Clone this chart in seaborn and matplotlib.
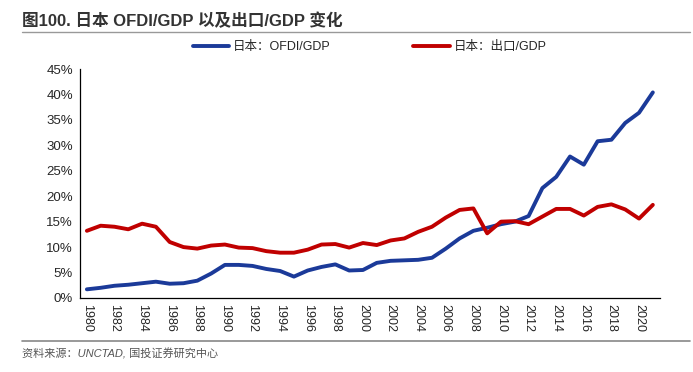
import numpy as np
import pandas as pd
import matplotlib
matplotlib.use("Agg")
import matplotlib.pyplot as plt
import seaborn as sns
from matplotlib.ticker import PercentFormatter

# dados (% do PIB)
anos = list(range(1980, 2022))
ofdi_gdp = [1.7, 2.0, 2.4, 2.6, 2.9, 3.2, 2.8, 2.9, 3.4, 4.8,
            6.5, 6.5, 6.3, 5.7, 5.3, 4.2, 5.4, 6.1, 6.6, 5.4,
            5.5, 6.9, 7.3, 7.4, 7.5, 7.9, 9.7, 11.7, 13.2, 13.8,
            14.5, 15.0, 16.1, 21.6, 23.8, 27.8, 26.2, 30.8, 31.1, 34.4,
            36.4, 40.4]
export_gdp = [13.2, 14.2, 14.0, 13.5, 14.6, 14.0, 11.0, 10.0, 9.7, 10.3,
              10.5, 9.9, 9.8, 9.2, 8.9, 8.9, 9.5, 10.5, 10.6, 9.9,
              10.8, 10.4, 11.3, 11.7, 13.0, 14.0, 15.8, 17.3, 17.6, 12.7,
              15.0, 15.1, 14.5, 16.0, 17.5, 17.5, 16.2, 17.9, 18.4, 17.4,
              15.6, 18.3]
series_names = ["日本：OFDI/GDP", "日本：出口/GDP"]
cores = ["#1B3A99", "#C00000"]
titulo = "图100. 日本 OFDI/GDP 以及出口/GDP 变化"
fonte = "资料来源：UNCTAD, 国投证券研究中心"

df = pd.DataFrame({
    "ano": anos * 2,
    "valor": np.array(ofdi_gdp + export_gdp) / 100,
    "serie": [series_names[0]] * len(anos) + [series_names[1]] * len(anos),
})

sns.set_theme(style="white")
plt.rcParams['font.family'] = ['Liberation Sans', 'Noto Sans CJK SC', 'DejaVu Sans']

fig = plt.figure(figsize=(6.93, 3.72), dpi=100)
ax = fig.add_axes([0.1154, 0.199, 0.8366, 0.6155])

sns.lineplot(data=df, x="ano", y="valor", hue="serie", hue_order=series_names,
             palette=cores, linewidth=2.8, ax=ax, legend=True)

ax.set_ylim(0, 0.45)
ax.set_yticks(np.arange(0, 0.451, 0.05))
ax.yaxis.set_major_formatter(PercentFormatter(1.0, decimals=0))
ax.set_xlim(1979.5, 2021.5)
ax.set_xticks(np.arange(1979.5, 2021.6, 1))
ax.set_xticklabels([])
ax.set_xticks(np.arange(1980, 2021, 2), minor=True)
ax.set_xticklabels([str(a) for a in range(1980, 2021, 2)], minor=True, rotation=270)
ax.tick_params(axis='x', which='major', direction='in', length=3, width=0.8, color='black')
ax.tick_params(axis='x', which='minor', length=0, labelsize=9, pad=4)
ax.tick_params(axis='y', direction='out', length=3, width=0.8, color='black', labelsize=9.5, pad=2)
ax.set_xlabel("")
ax.set_ylabel("")
for s in ['top', 'right']:
    ax.spines[s].set_visible(False)
for s in ['left', 'bottom']:
    ax.spines[s].set_color('black')
    ax.spines[s].set_linewidth(0.9)

leg = ax.legend(loc='lower center', bbox_to_anchor=(0.5, 1.02), ncol=2, frameon=False,
                fontsize=9, handlelength=2.9, columnspacing=6.6, handletextpad=0.3)

fig.text(0.032, 0.945, titulo, fontsize=12, fontweight='bold', color='#333333', va='center')
fig.add_artist(plt.Line2D([0.032, 0.995], [0.915, 0.915], color='#999999', lw=1))
fig.add_artist(plt.Line2D([0.032, 0.995], [0.082, 0.082], color='#888888', lw=1.2))
fig.text(0.032, 0.05, fonte, fontsize=8, style='italic', color='#555555', va='center')

fig.savefig("out.png", dpi=100)
